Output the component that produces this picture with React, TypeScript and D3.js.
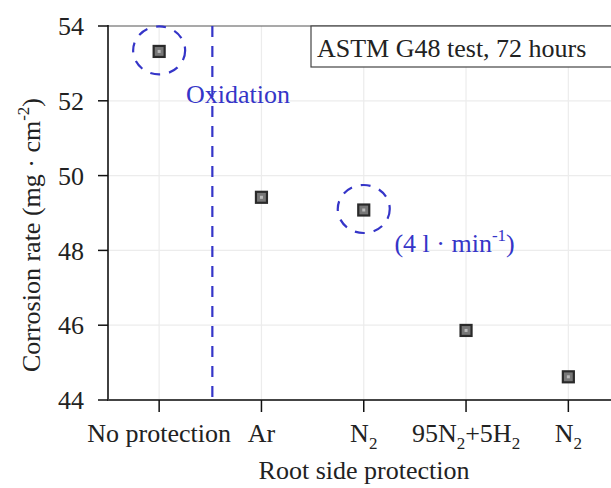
import React from "react";
import * as d3 from "d3";

const categories = ["No protection", "Ar", "N2", "95N2+5H2", "N2b"];
const positions = [1, 2, 3, 4, 5];
const values = [53.32, 49.42, 49.08, 45.86, 44.62];
const yTicks = [44, 46, 48, 50, 52, 54];
const circled = [0, 2];

const W = 611, H = 488;
const margin = { left: 108, top: 26, bottom: 88 };
const FONT = "'Liberation Serif', 'Times New Roman', serif";
const BLUE = "#3535c8";
const FS = 26;
const SUB = 17;

function CatLabel({ name }: { name: string }) {
  const sub = (t: string) => (
    <tspan fontSize={SUB} dy={7}>{t}</tspan>
  );
  if (name === "N2" || name === "N2b") {
    return (<>N{sub("2")}</>);
  }
  if (name === "95N2+5H2") {
    return (<>95N{sub("2")}<tspan dy={-7}>+5H</tspan>{sub("2")}</>);
  }
  return <>{name}</>;
}

export default function App() {
  const x = d3.scaleLinear().domain([0.5, 5.5]).range([margin.left, margin.left + 5 * 102.3]);
  const y = d3.scaleLinear().domain([44, 54]).range([H - margin.bottom, margin.top]);
  const x0 = margin.left, x1 = W + 20;
  const yb = y(44), yt = y(54);

  return (
    <svg width={W} height={H} style={{ position: "absolute", left: 0, top: 0, background: "#fff" }} fontFamily={FONT}>
      {yTicks.slice(1, -1).map((t) => (
        <line key={"gy" + t} x1={x0} x2={x1} y1={y(t)} y2={y(t)} stroke="#ececec" strokeWidth={1.2} />
      ))}
      {positions.map((p) => (
        <line key={"gx" + p} x1={x(p)} x2={x(p)} y1={yt} y2={yb} stroke="#ececec" strokeWidth={1.2} />
      ))}
      <line x1={x0} x2={x1} y1={yt} y2={yt} stroke="#555" strokeWidth={1.2} />
      <line x1={x0} x2={x0} y1={yt - 1} y2={yb + 1} stroke="#111" strokeWidth={1.6} />
      <line x1={x0} x2={x1} y1={yb} y2={yb} stroke="#444" strokeWidth={2} />
      {yTicks.map((t) => (
        <g key={"yt" + t}>
          <line x1={x0 - 10} x2={x0} y1={y(t)} y2={y(t)} stroke="#111" strokeWidth={1.5} />
          <text x={x0 - 24} y={y(t)} dy="0.35em" textAnchor="end" fontSize={FS} fill="#222">{t}</text>
        </g>
      ))}
      {positions.map((p, i) => (
        <g key={"xt" + p}>
          <line x1={x(p)} x2={x(p)} y1={yb} y2={yb + 12} stroke="#111" strokeWidth={1.5} />
          <text x={x(p)} y={yb + 42} textAnchor="middle" fontSize={FS} fill="#222">
            <CatLabel name={categories[i]} />
          </text>
        </g>
      ))}
      <line x1={x(1.52)} x2={x(1.52)} y1={yt} y2={yb} stroke={BLUE} strokeWidth={2.2} strokeDasharray="11,9" />
      <text x={x(1.77)} y={y(51.95)} textAnchor="middle" fontSize={FS} fill={BLUE}>Oxidation</text>
      <text x={x(3.3)} y={y(47.96)} fontSize={FS} fill={BLUE}>
        (4 l · min<tspan fontSize={SUB} dy={-11}>-1</tspan><tspan dy={11}>)</tspan>
      </text>
      {circled.map((i) => (
        <ellipse key={"c" + i} cx={x(positions[i])} cy={y(values[i]) - 1} rx={26} ry={24} fill="none" stroke={BLUE} strokeWidth={2.2} strokeDasharray="10,9" />
      ))}
      {positions.map((p, i) => (
        <g key={"m" + p}>
          <rect x={x(p) - 5.5} y={y(values[i]) - 5.5} width={11} height={11} fill="#777" stroke="#2a2a2a" strokeWidth={2.2} />
          <rect x={x(p) - 1.5} y={y(values[i]) - 1.5} width={3} height={3} fill="#bbb" />
        </g>
      ))}
      <rect x={311} y={yt} width={320} height={41} fill="#fff" stroke="#444" strokeWidth={1.2} />
      <text x={317} y={yt + 31} fontSize={FS} fill="#222">ASTM G48 test, 72 hours</text>
      <text x={364} y={479} textAnchor="middle" fontSize={FS} fill="#222">Root side protection</text>
      <text transform={`translate(40, 235) rotate(-90)`} textAnchor="middle" fontSize={FS} fill="#222">
        Corrosion rate (mg · cm<tspan fontSize={SUB} dy={-11}>-2</tspan><tspan dy={11}>)</tspan>
      </text>
    </svg>
  );
}
